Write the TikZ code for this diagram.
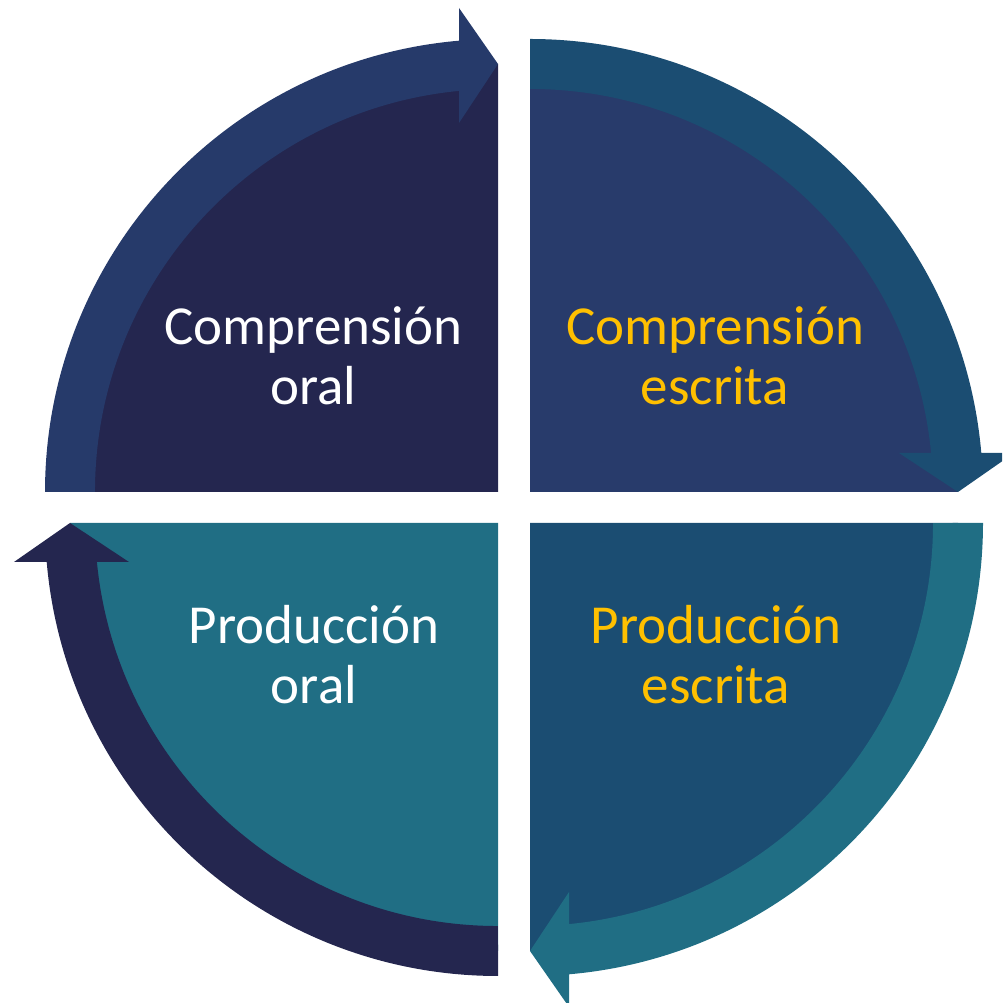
\documentclass[tikz,border=0pt]{standalone}
\usepackage{fontspec}
\setmainfont{Carlito}
\usetikzlibrary{positioning}
\definecolor{navydark}{HTML}{24264F}
\definecolor{navyband}{HTML}{263A6A}
\definecolor{navyin}{HTML}{283B6B}
\definecolor{petrol}{HTML}{1B4D72}
\definecolor{tealblue}{HTML}{206E84}
\definecolor{gold}{HTML}{FFC000}
\tikzset{%
  every quarter/.style={
    draw=none
  },
  quarter label/.style={
    align=center,
    inner sep=0pt,
    font=\fontsize{55}{60}\selectfont
  },
}

\begin{document}
\begin{tikzpicture}[x=1pt, y=1pt]

\useasboundingbox (0,0) rectangle (1002,1003);
\clip (0,0) rectangle (1002,1003);

\coordinate (tl) at (498,511);
\coordinate (tr) at (530,511);
\coordinate (br) at (530,480);
\coordinate (bl) at (498,480);

% quarter: sector + arc arrow, turned clockwise
\foreach \c/\r/\f/\b in {tl/0/navydark/navyband, tr/-90/navyin/petrol,
    br/-180/petrol/tealblue, bl/90/tealblue/navydark}
{
  \begin{scope}[shift={(\c)}, rotate=\r]
    \fill [every quarter, \f] (0,0) -- (180:428)
      arc [start angle=180, end angle=90, radius=428] -- cycle;
    \fill [every quarter, \b] (180:453)
      arc [start angle=180, end angle=94.94, radius=453]
      -- (-39,484) -- (0,428) -- (-39,369) -- (-39,401.1)
      arc [start angle=95.55, end angle=180, radius=403] -- cycle;
  \end{scope}
}

\foreach \n/\x/\y/\t/\l in {comp-oral/313.5/647/white/Comprensión\\oral,
    comp-escrita/715/647/gold/Comprensión\\escrita,
    prod-oral/314/348/white/Producción\\oral,
    prod-escrita/716/348/gold/Producción\\escrita}
  \node [quarter label, text=\t] (\n) at (\x,\y) {\l};

\end{tikzpicture}
\end{document}
